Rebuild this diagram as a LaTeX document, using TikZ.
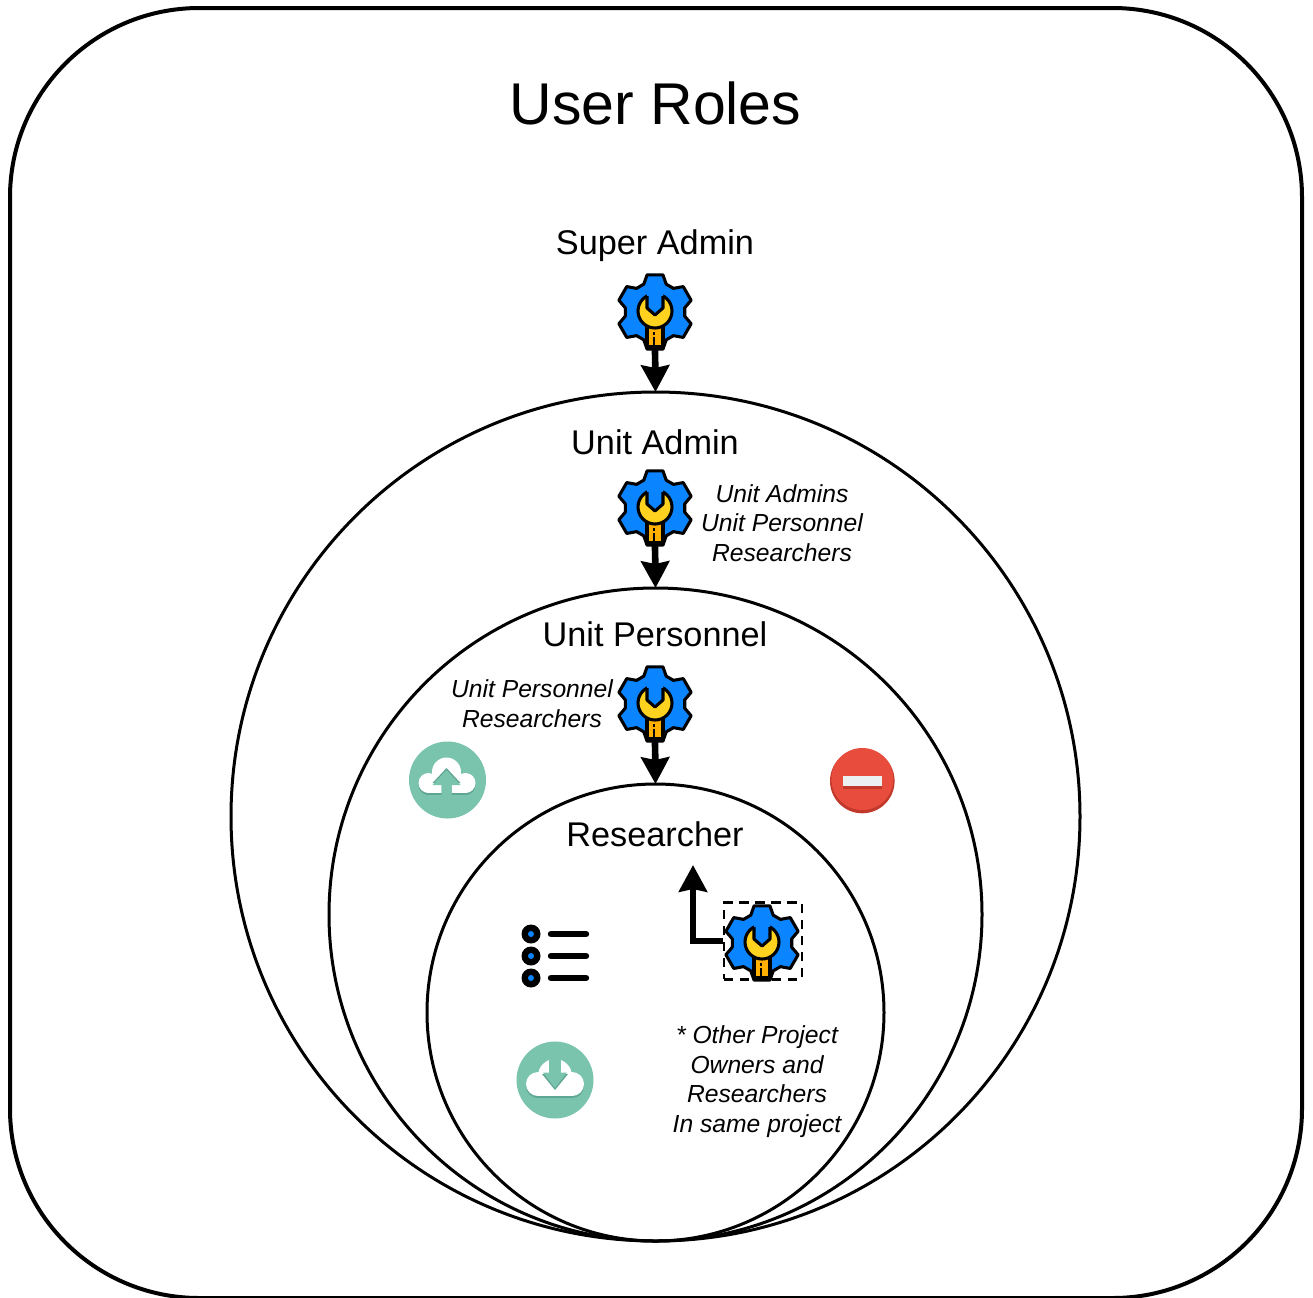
\documentclass[tikz,border=0pt]{standalone}
\usepackage{fontspec}
\setmainfont{Liberation Sans}
\usetikzlibrary{arrows.meta,positioning}
\definecolor{gearblue}{HTML}{0A84FF}
\definecolor{wrenchyellow}{HTML}{FFD21F}
\definecolor{handleorange}{HTML}{FFB000}
\definecolor{cloudteal}{HTML}{7AC4AE}
\definecolor{clouddark}{HTML}{5FA593}
\definecolor{minusred}{HTML}{E84C3D}
\definecolor{minusdark}{HTML}{C0392B}
\definecolor{minusbar}{HTML}{ECF0F1}
\tikzset{
  rolecircle/.style={draw, circle, line width=2.25pt, inner sep=0pt, outer sep=0pt},
  roletitle/.style={font=\fontsize{25.7}{30}\selectfont, inner sep=0pt},
  scopenote/.style={font=\fontsize{18.5}{22.3}\selectfont\itshape, align=center, inner sep=0pt},
  rolearrow/.style={line width=5pt, -{Stealth[length=20pt,width=21pt,inset=2pt]}},
  gearicon/.pic={
    \draw [fill=gearblue, line width=2.3pt, line join=round]
      (112:30) \foreach \a in {90,30,-30,-90,-150,150} {
        -- (\a+22:30) -- (\a+12:38) -- (\a-12:38) -- (\a-22:30) } -- cycle;
    \draw [fill=handleorange, line width=2.3pt, line join=round] (-8,8) rectangle (8,35);
    \fill (-2,20) rectangle (0,23);
    \fill (-2,25) rectangle (0,33);
    \draw [fill=wrenchyellow, line width=2.3pt] (0,-1) circle [radius=17];
    \fill [gearblue] (-8,-24) -- (8,-24) -- (8,-4) -- (0,3) -- (-8,-4) -- cycle;
    \draw [line width=2.3pt, line join=round] (-8,-16) -- (-8,-4) -- (0,3) -- (8,-4) -- (8,-16);
    \coordinate (-tail) at (0,36);
  },
  uploadicon/.pic={
    \fill [cloudteal] (0,0) circle [radius=38.5];
    \fill [clouddark] (-19,5) circle [radius=10];
    \fill [clouddark] (18,5) circle [radius=10];
    \fill [clouddark] (-19,6) rectangle (18,15);
    \fill [white] (-19,3) circle [radius=10];
    \fill [white] (18,3) circle [radius=10];
    \fill [white] (-1,-8) circle [radius=14.5];
    \fill [white] (-19,0) rectangle (18,13);
    \fill [clouddark] (-1,-12) -- (13,3) -- (4,3) -- (4,15) -- (-6,15) -- (-6,3) -- (-15,3) -- cycle;
    \fill [cloudteal] (-1,-10) -- (13,5) -- (4,5) -- (4,18) -- (-6,18) -- (-6,5) -- (-15,5) -- cycle;
  },
  downloadicon/.pic={
    \fill [cloudteal] (0,0) circle [radius=38.5];
    \fill [clouddark] (-17,6) circle [radius=12];
    \fill [clouddark] (17,6) circle [radius=12];
    \fill [clouddark] (-17,8) rectangle (17,18);
    \fill [white] (-17,4) circle [radius=12];
    \fill [white] (17,4) circle [radius=12];
    \fill [white] (0,-4) circle [radius=17];
    \fill [white] (-17,2) rectangle (17,16);
    \fill [clouddark] (-13,-6) -- (13,-6) -- (0,10) -- cycle;
    \fill [cloudteal] (-5.7,-25) rectangle (5.7,-7);
    \fill [cloudteal] (-12,-7.5) -- (12,-7.5) -- (0,8) -- cycle;
  },
  minusicon/.pic={
    \fill [minusdark] (0,0) circle [radius=32.3];
    \fill [minusred] (0,-2) circle [radius=31];
    \fill [minusdark] (-19.5,0) rectangle (19.5,8);
    \fill [minusbar] (-19.5,-5) rectangle (19.5,5);
  },
  listicon/.pic={
    \foreach \y in {-22,0,22} {
      \fill (0,\y) circle [radius=9.5];
      \fill [gearblue] (0,\y) circle [radius=3];
      \draw [line width=4.8pt, line cap=round] (20,\y) -- (55,\y);
    }
  }
}
\begin{document}
\begin{tikzpicture}[x=0.75pt, y=-0.75pt]
  \useasboundingbox (0,0) rectangle (1313,1297);
  \node (rolesframe) [draw, line width=3pt, rounded corners=142pt, inner sep=0pt, outer sep=0pt,
    minimum width=969pt, minimum height=967.5pt] at (656,653) {};
  \node (rolesheading) [font=\fontsize{44.2}{54}\selectfont, inner sep=0pt] at (655.5,103.5) {User Roles};

  \node (unitadmin) [rolecircle, minimum size=636.75pt] at (655.5,816.5) {};
  \node (unitpersonnel) [rolecircle, minimum size=489.75pt] at (655.5,914.5) {};
  \node (researcher) [rolecircle, minimum size=342.75pt] at (655.5,1012.5) {};

  \node (superlabel) [roletitle] at (655,246) {Super Admin};
  \node (adminlabel) [roletitle] at (655,442.5) {Unit Admin};
  \node (personnellabel) [roletitle] at (655,634.5) {Unit Personnel};
  \node (researcherlabel) [roletitle] at (655,834.5) {Researcher};

  \pic (supergear) at (655,312) {gearicon};
  \pic (admingear) at (655,508) {gearicon};
  \pic (personnelgear) at (655,704) {gearicon};
  \pic (ownergear) at (762,943) {gearicon};

  % who each role can manage
  \node (adminscope) [scopenote] at (782,523) {Unit Admins\\Unit Personnel\\Researchers};
  \node (personnelscope) [scopenote] at (532,704) {Unit Personnel\\Researchers};
  \node (ownerscope) [scopenote] at (757,1081.5) {* Other Project\\Owners and\\Researchers\\In same project};

  \pic at (447.5,780) {uploadicon};
  \pic at (862.3,781) {minusicon};
  \pic at (531,956) {listicon};
  \pic at (555,1080) {downloadicon};

  \draw [rolearrow] (supergear-tail) -- (unitadmin.north);
  \draw [rolearrow] (admingear-tail) -- (unitpersonnel.north);
  \draw [rolearrow] (personnelgear-tail) -- (researcher.north);

  \node (ownerbox) [draw, line width=2.2pt, dash pattern=on 7pt off 5pt, inner sep=0pt,
    minimum width=58.5pt, minimum height=57.5pt] at (763,941) {};
  \coordinate (ownertip) at (693,865);
  \draw [rolearrow] (ownerbox.west) -| (ownertip);
\end{tikzpicture}
\end{document}
